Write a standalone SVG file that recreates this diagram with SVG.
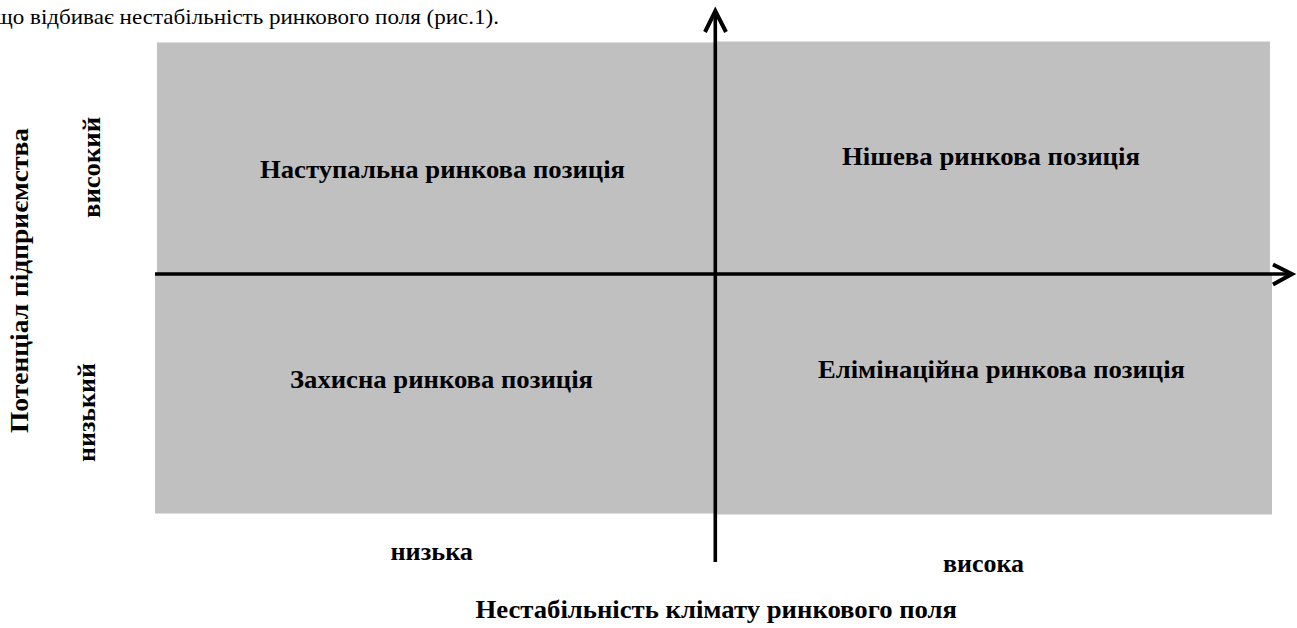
<svg xmlns="http://www.w3.org/2000/svg" width="1297" height="628" viewBox="0 0 1297 628">
<style>
.q{fill:#c0c0c0;stroke:none}
.b{font-family:"Liberation Serif","Times New Roman",serif;font-weight:bold;font-size:25px;fill:#000}
.r{font-family:"Liberation Serif","Times New Roman",serif;font-size:21px;fill:#000}
.ax{stroke:#000;stroke-width:3.6;fill:none}
.ah{stroke:#000;stroke-width:4;fill:none;stroke-linejoin:miter;stroke-linecap:butt}
</style>
<rect width="1297" height="628" fill="#fff"/>
<text class="r" x="-5" y="24" textLength="504" lengthAdjust="spacingAndGlyphs">що відбиває  нестабільність ринкового поля (рис.1).</text>
<g id="q-offensive">
<rect class="q" x="157" y="42.5" width="558" height="232"/>
<text class="b" x="260" y="178" textLength="365" lengthAdjust="spacingAndGlyphs">Наступальна ринкова позиція</text>
</g>
<g id="q-niche">
<rect class="q" x="715" y="41.5" width="555" height="233"/>
<text class="b" x="842" y="165" textLength="298" lengthAdjust="spacingAndGlyphs">Нішева ринкова позиція</text>
</g>
<g id="q-defensive">
<rect class="q" x="155" y="274" width="573" height="239.5"/>
<text class="b" x="290" y="388" textLength="303" lengthAdjust="spacingAndGlyphs">Захисна ринкова позиція</text>
</g>
<g id="q-elimination">
<rect class="q" x="715" y="274" width="557" height="240.5"/>
<text class="b" x="818" y="378" textLength="367" lengthAdjust="spacingAndGlyphs">Елімінаційна ринкова позиція</text>
</g>
<g id="connectors">
<line class="ax" x1="715.3" y1="562" x2="715.3" y2="12"/>
<polyline class="ah" points="705,32 715.3,11 726,32"/>
<line class="ax" x1="155" y1="274" x2="1291" y2="274"/>
<polyline class="ah" points="1273,264.5 1292,274 1273,284.5"/>
</g>
<g id="axis-labels">
<text class="b" transform="translate(28,433) rotate(-90)" textLength="305" lengthAdjust="spacingAndGlyphs">Потенціал підприємства</text>
<text class="b" transform="translate(100,218) rotate(-90)" textLength="101" lengthAdjust="spacingAndGlyphs">високий</text>
<text class="b" transform="translate(95,462) rotate(-90)" textLength="99" lengthAdjust="spacingAndGlyphs">низький</text>
<text class="b" x="390.5" y="560" textLength="82.5" lengthAdjust="spacingAndGlyphs">низька</text>
<text class="b" x="943" y="571.5" textLength="81" lengthAdjust="spacingAndGlyphs">висока</text>
<text class="b" x="475.5" y="618" textLength="481.5" lengthAdjust="spacingAndGlyphs">Нестабільність клімату ринкового поля</text>
</g>
</svg>
